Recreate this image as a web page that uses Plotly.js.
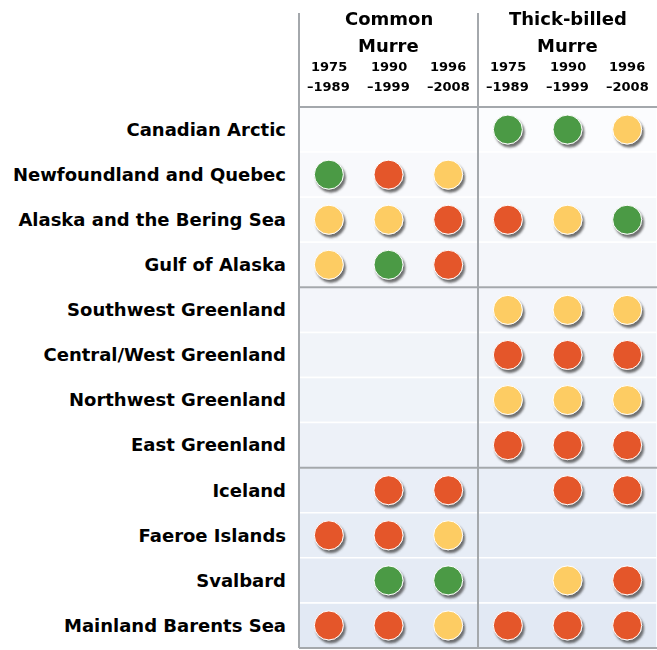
<!DOCTYPE html>
<html>
<head>
<meta charset="utf-8">
<script src="https://cdn.plot.ly/plotly-3.0.1.min.js"></script>
<style>
  html, body { margin: 0; padding: 0; background: #ffffff; }
  #chart { width: 657px; height: 650px; }
</style>
</head>
<body>
<div id="chart"></div>
<script>
// ---------- data ----------
const regions = [
  "Canadian Arctic",
  "Newfoundland and Quebec",
  "Alaska and the Bering Sea",
  "Gulf of Alaska",
  "Southwest Greenland",
  "Central/West Greenland",
  "Northwest Greenland",
  "East Greenland",
  "Iceland",
  "Faeroe Islands",
  "Svalbard",
  "Mainland Barents Sea"
];
const species = ["Common Murre", "Thick-billed Murre"];
const periods = ["1975–1989", "1990–1999", "1996–2008"];

// trend per region, per period: "up" = increase, "down" = decline, "stable" = stable, null = no data
const commonMurre = [
  [null, null, null],
  ["up", "down", "stable"],
  ["stable", "stable", "down"],
  ["stable", "up", "down"],
  [null, null, null],
  [null, null, null],
  [null, null, null],
  [null, null, null],
  [null, "down", "down"],
  ["down", "down", "stable"],
  [null, "up", "up"],
  ["down", "down", "stable"]
];
const thickBilledMurre = [
  ["up", "up", "stable"],
  [null, null, null],
  ["down", "stable", "up"],
  [null, null, null],
  ["stable", "stable", "stable"],
  ["down", "down", "down"],
  ["stable", "stable", "stable"],
  ["down", "down", "down"],
  [null, "down", "down"],
  [null, null, null],
  [null, "stable", "down"],
  ["down", "down", "down"]
];
const trendKinds = ["up", "down", "stable"];
const trendColors = { up: "#4c9a45", down: "#e4572c", stable: "#fdcc63" };

// ---------- layout geometry ----------
const W = 657, H = 650;
const M = { l: 299, r: 0, t: 107, b: 2 };
const plotH = H - M.t - M.b;
const pxToPaper = (py) => (H - M.b - py) / plotH;

const FONT = "DejaVu Sans, Liberation Sans, Arial, sans-serif";
const gridGrey = "#a4a8ac";

// ---------- traces ----------
const speciesData = [commonMurre, thickBilledMurre];
const traces = trendKinds.map(kind => {
  const xs = [], ys = [];
  speciesData.forEach((tbl, s) => {
    tbl.forEach((row, r) => {
      row.forEach((v, p) => {
        if (v === kind) { xs.push(s * periods.length + p); ys.push(regions[r]); }
      });
    });
  });
  return {
    type: "scatter", mode: "markers", x: xs, y: ys, name: kind,
    hoverinfo: "skip", showlegend: false,
    marker: { size: 29, color: trendColors[kind], line: { color: "#ffffff", width: 1 } },
    cliponaxis: false
  };
});

// ---------- shapes ----------
const rowFills = ["#fbfcfe", "#f8f9fc", "#f6f8fb", "#f4f6fa", "#f3f5fa", "#f1f4f9", "#eff3f9", "#edf1f8",
                  "#e9eef7", "#e7edf6", "#e5ebf5", "#e2e9f4"];
const shapes = [];
regions.forEach((_, i) => {
  shapes.push({ type: "rect", layer: "below", xref: "paper", x0: 0, x1: 1, yref: "y",
    y0: i - 0.5, y1: i + 0.5, fillcolor: rowFills[i], line: { color: "#ffffff", width: 1.5 } });
});
// group separators
[3.5, 7.5].forEach(yv => shapes.push({ type: "line", xref: "paper", x0: 0, x1: 1, yref: "y", y0: yv, y1: yv,
  line: { color: gridGrey, width: 2 } }));
shapes.push({ type: "line", xref: "paper", x0: 0, x1: 1, yref: "paper", y0: 1, y1: 1, line: { color: gridGrey, width: 2 } });
shapes.push({ type: "line", xref: "paper", x0: 0, x1: 1, yref: "paper", y0: 0, y1: 0, line: { color: gridGrey, width: 2 } });
// vertical lines
shapes.push({ type: "line", xref: "paper", x0: 0, x1: 0, yref: "paper", y0: 0, y1: pxToPaper(13), line: { color: gridGrey, width: 2 } });
shapes.push({ type: "line", xref: "x", x0: periods.length - 0.5, x1: periods.length - 0.5, yref: "paper", y0: 0, y1: pxToPaper(13), line: { color: gridGrey, width: 2 } });

// ---------- annotations (headers) ----------
const annotations = [];
species.forEach((name, s) => {
  const cut = name.lastIndexOf(" ");
  const lines = [name.slice(0, cut), name.slice(cut + 1)];
  const xc = s * periods.length + (periods.length - 1) / 2;
  [19, 46].forEach((py, k) => annotations.push({
    xref: "x", x: xc, yref: "paper", y: pxToPaper(py), yanchor: "middle", xanchor: "center",
    text: "<b>" + lines[k] + "</b>", showarrow: false,
    font: { family: FONT, size: 18, color: "#000000" }
  }));
  periods.forEach((per, p) => {
    const parts = per.split("–");
    const pl = [parts[0], "–" + parts[1]];
    [67, 87].forEach((py, k) => annotations.push({
      xref: "x", x: s * periods.length + p, yref: "paper", y: pxToPaper(py), yanchor: "middle", xanchor: "center",
      text: "<b>" + pl[k] + "</b>", showarrow: false,
      font: { family: FONT, size: 13, color: "#000000" }
    }));
  });
});

const layout = {
  width: W, height: H,
  margin: M,
  paper_bgcolor: "#ffffff",
  plot_bgcolor: "rgba(0,0,0,0)",
  showlegend: false,
  xaxis: { range: [-0.5, species.length * periods.length - 0.5], showgrid: false, zeroline: false,
           showticklabels: false, ticks: "", fixedrange: true },
  yaxis: { type: "category", categoryorder: "array", categoryarray: regions,
           range: [regions.length - 0.5, -0.5], showgrid: false, zeroline: false, ticks: "",
           ticklabelstandoff: 12,
           tickfont: { family: FONT, size: 18, color: "#000000", weight: "bold" }, fixedrange: true },
  shapes: shapes,
  annotations: annotations
};

Plotly.newPlot("chart", traces, layout, { displayModeBar: false, staticPlot: true }).then(gd => {
  const svg = gd.querySelector(".main-svg");
  const ns = "http://www.w3.org/2000/svg";
  let defs = svg.querySelector("defs");
  if (!defs) { defs = document.createElementNS(ns, "defs"); svg.insertBefore(defs, svg.firstChild); }
  const f = document.createElementNS(ns, "filter");
  f.setAttribute("id", "dotShadow");
  f.setAttribute("x", "-50%"); f.setAttribute("y", "-50%");
  f.setAttribute("width", "200%"); f.setAttribute("height", "200%");
  const ds = document.createElementNS(ns, "feDropShadow");
  ds.setAttribute("dx", "2"); ds.setAttribute("dy", "3");
  ds.setAttribute("stdDeviation", "1.2");
  ds.setAttribute("flood-color", "#444");
  ds.setAttribute("flood-opacity", "0.75");
  f.appendChild(ds);
  defs.appendChild(f);
  gd.querySelectorAll(".scatterlayer .trace").forEach(t => t.setAttribute("filter", "url(#dotShadow)"));
});
</script>
</body>
</html>
